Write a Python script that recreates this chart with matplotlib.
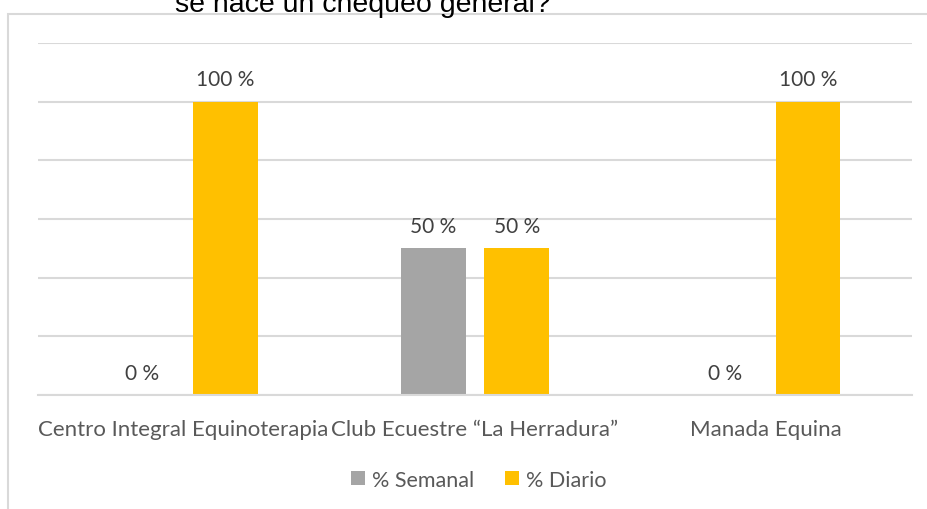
import matplotlib
matplotlib.use("Agg")
import matplotlib.pyplot as plt
from matplotlib.patches import Rectangle
import numpy as np

categories = ["Centro Integral Equinoterapia", "Club Ecuestre \u201cLa Herradura\u201d", "Manada Equina"]
series_names = ["% Semanal", "% Diario"]
semanal = [0, 50, 0]
diario = [100, 50, 100]
colors = ["#A5A5A5", "#FFC000"]
title = "se hace un chequeo general?"

plt.rcParams['font.family'] = ['Lato', 'DejaVu Sans']

fig = plt.figure(figsize=(9.28, 5.10), dpi=100)
W, H = 928, 510

# chart border (partially visible)
fig.patches.append(Rectangle((8 / W, -0.1), 1.2, 1 - 15 / H + 0.1, transform=fig.transFigure,
                             fill=False, edgecolor="#D9D9D9", lw=1.5))

fig.text(363 / W, 1 - 11.5 / H, title, ha="center", va="baseline",
         fontsize=20.5, color="#000000", family="Liberation Sans")

ax = fig.add_axes([38 / W, 1 - 396 / H, (912 - 38) / W, (396 - 44) / H])
x = np.arange(len(categories))
width = 0.223
off = 0.143
for vals, name, c, o in [(semanal, series_names[0], colors[0], -off), (diario, series_names[1], colors[1], off)]:
    bars = ax.bar(x + o, vals, width, color=c, label=name, zorder=3)
    for b, v in zip(bars, vals):
        ax.text(b.get_x() + b.get_width() / 2, v + 5.6, f"{v} %", ha="center", va="baseline",
                fontsize=15, color="#404040")

ax.set_xlim(-0.5, 2.5)
ax.set_ylim(0, 120)
ax.set_yticks(np.arange(0, 121, 20))
ax.yaxis.grid(True, color="#D9D9D9", lw=1.5, zorder=0)
ax.set_yticklabels([])
ax.tick_params(axis="y", length=0)
ax.tick_params(axis="x", length=0, pad=17)
ax.set_xticks(x)
ax.set_xticklabels(categories, fontsize=16, color="#595959")
for s in ["top", "right", "left"]:
    ax.spines[s].set_visible(False)
ax.spines["bottom"].set_color("#D9D9D9")
ax.spines["bottom"].set_linewidth(1.5)
ax.spines["bottom"].set_zorder(4)

leg = fig.legend(loc="center", bbox_to_anchor=(479 / W, 1 - 481 / H), ncol=2, frameon=False,
                 fontsize=15.5, handlelength=0.62, handleheight=0.62, handletextpad=0.35,
                 columnspacing=1.45, labelcolor="#595959")

fig.savefig("out.png", dpi=100, facecolor="white")
